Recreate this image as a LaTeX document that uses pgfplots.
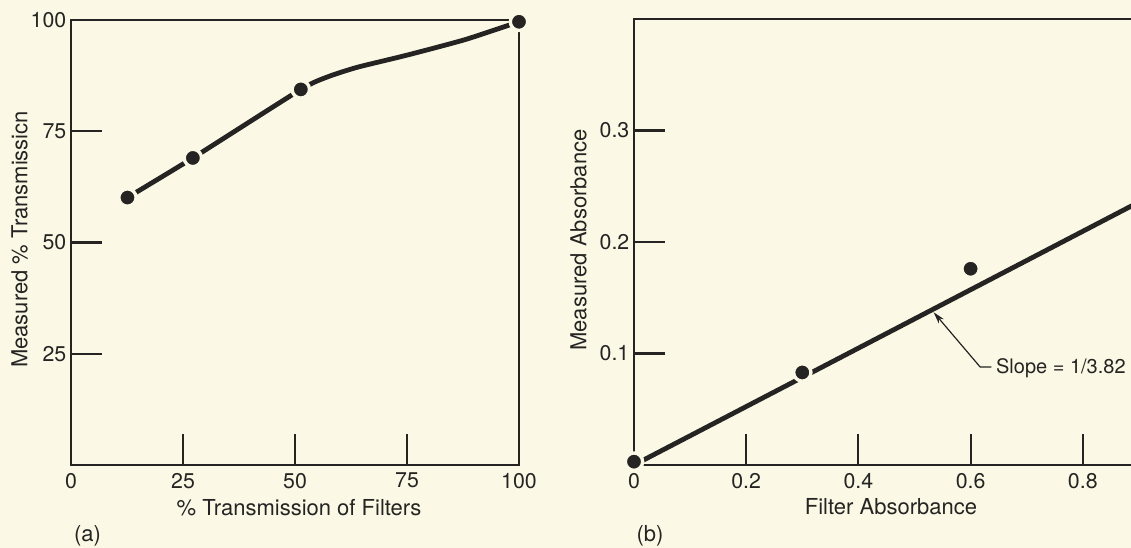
\documentclass[border=0pt]{standalone}
\usepackage{fontspec}
\setmainfont{TeX Gyre Heros}
\usepackage{pgfplots}
\pgfplotsset{compat=1.18}
\usetikzlibrary{arrows.meta}
\definecolor{paper}{HTML}{FBF9E6}
\definecolor{ink}{HTML}{252422}
\pgfplotsset{
  common/.style={
    scale only axis, axis on top, clip=false,
    axis line style={ink, line width=1.6pt},
    every tick/.style={ink, line width=1.6pt},
    tick align=inside, tick pos=left, major tick length=23pt,
    ticklabel style={text=ink, font=\fontsize{16}{19}\selectfont},
    xticklabel style={yshift=-2.5pt},
    label style={text=ink, font=\fontsize{16.5}{19}\selectfont},
  },
  curve/.style={ink, line width=3.6pt, line cap=round, no marks},
  dots/.style={only marks, mark=*, mark size=6.5pt,
    mark options={fill=ink, draw=paper, line width=2.5pt}},
}
\begin{document}
\begin{tikzpicture}
\useasboundingbox (0,0) rectangle (848.25pt,411pt);
\fill[paper] (0,0) rectangle (848.25pt,411pt);
\begin{scope}
\clip (0,0) rectangle (848.25pt,411pt);
% ---------- panel (a)
\begin{axis}[common, at={(53.25pt,62.25pt)}, width=336pt, height=333.75pt,
  xmin=0, xmax=100, ymin=0, ymax=100,
  xtick={0,25,50,75,100}, xticklabels={0,25,50,75,100},
  ytick={25,50,75,100}, yticklabels={25,50,75,100},
  xlabel={\% Transmission of Filters},
  ylabel={Measured \% Transmissicn},
  xlabel style={at={(axis description cs:0.509,-0.1124)}, anchor=base},
  ylabel style={at={(axis description cs:-0.115,0.507)}, anchor=center},
]
\addplot[curve, smooth, tension=0.35] coordinates {
  (12.6,60.1) (27.2,69.0) (51.3,84.4) (57.5,87.3) (64,89.4)
  (75,92.1) (88,95.6) (100,99.6)};
\addplot[dots] coordinates {(12.6,60.1) (27.2,69.0) (51.3,84.4) (100,99.6)};
\end{axis}
\node[text=ink, font=\fontsize{16.5}{19}\selectfont] at (65.6pt,9pt) {(a)};
% ---------- panel (b)
\begin{axis}[common, at={(475.5pt,62.25pt)}, width=420.75pt, height=334.5pt,
  xmin=0, xmax=1, ymin=0, ymax=0.4,
  xtick={0,0.2,0.4,0.6,0.8}, xticklabels={0,0.2,0.4,0.6,0.8},
  ytick={0.1,0.2,0.3}, yticklabels={0.1,0.2,0.3},
  xlabel={Filter Absorbance},
  ylabel={Measured Absorbance},
  xlabel style={at={(axis description cs:0.458,-0.1121)}, anchor=base},
  ylabel style={at={(axis description cs:-0.099,0.5045)}, anchor=center},
]
\addplot[curve] coordinates {(0,0) (1,0.262)};
\addplot[dots] coordinates {(0,0.003) (0.30,0.083) (0.60,0.176)};
\draw[ink, line width=0.9pt, -{Stealth[length=9pt,width=5pt]}]
  (axis cs:0.637,0.0879) -- (axis cs:0.617,0.0879) -- (axis cs:0.534,0.137);
\node[anchor=base west, inner sep=0pt, text=ink, font=\fontsize{15}{17}\selectfont]
  at (axis cs:0.645,0.0825) {Slope = 1/3.82};
\end{axis}
\node[text=ink, font=\fontsize{16.5}{19}\selectfont] at (487.5pt,9pt) {(b)};
\end{scope}
\end{tikzpicture}
\end{document}
